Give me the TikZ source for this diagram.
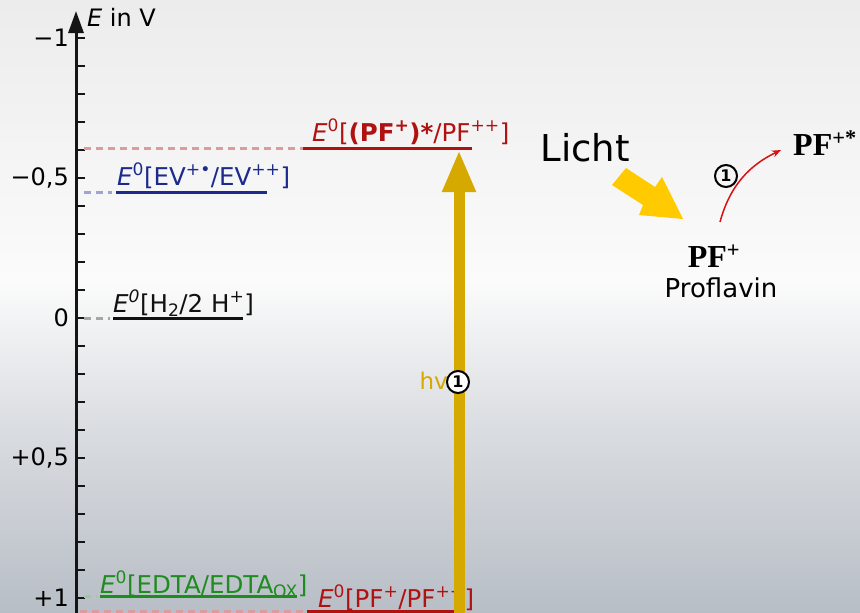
\documentclass[tikz,border=0pt]{standalone}
\usepackage{fontspec}
\setmainfont{DejaVu Sans}
\newfontfamily\pfserif{Liberation Serif}
\usetikzlibrary{arrows.meta}
\definecolor{bgtop}{HTML}{ECECEC}
\definecolor{bgmid}{HTML}{FBFBFB}
\definecolor{bgbot}{HTML}{B8BEC6}
\definecolor{axcol}{HTML}{151515}
\definecolor{lvred}{HTML}{B01212}
\definecolor{lvredl}{HTML}{DA9C9C}
\definecolor{lvblue}{HTML}{1C2A8E}
\definecolor{lvbluel}{HTML}{A0A4D2}
\definecolor{lvblack}{HTML}{111111}
\definecolor{lvgrayl}{HTML}{A6A6A6}
\definecolor{lvgreen}{HTML}{1E8C1E}
\definecolor{lvgreenl}{HTML}{9CCB9C}
\definecolor{gold}{HTML}{D6A900}
\definecolor{lichty}{HTML}{FFCB00}
\definecolor{curvered}{HTML}{D81010}
\pgfdeclareverticalshading{bgshade}{100bp}{color(0bp)=(bgbot); color(25bp)=(bgbot); color(40bp)=(bgbot!50!bgmid); color(52bp)=(bgmid); color(75bp)=(bgtop); color(100bp)=(bgtop)}
\begin{document}
\begin{tikzpicture}[x=1pt,y=-1pt,
  lvl/.style={line width=3pt},
  dsh/.style={line width=3pt, dash pattern=on 7pt off 5pt},
  lbl/.style={font=\fontsize{24.5}{28}\selectfont, inner sep=0pt, anchor=base west},
  ticklbl/.style={font=\fontsize{24}{28}\selectfont, inner sep=0pt, anchor=east},
  circnum/.style={circle, draw=black, line width=2pt, inner sep=0pt, minimum size=22pt, font=\bfseries\fontsize{16}{16}\selectfont},
  pf/.style={font=\pfserif\bfseries\fontsize{32}{34}\selectfont, inner sep=0pt}
  ]
\useasboundingbox (0,0) rectangle (860,613);
\clip (0,0) rectangle (860,613);
\begin{scope}[y=1pt]
\shade[shading=bgshade] (0,-613) rectangle (860,0);
\end{scope}

% axis
\coordinate (axbot) at (76,613);
\coordinate (axtop) at (76,11);
\draw[axcol, line width=3pt, -{Triangle[width=15pt,length=22pt]}] (axbot) -- (axtop);
\foreach \i in {0,...,20} \draw[axcol, line width=2pt] (76,38+28*\i) -- (85,38+28*\i);
\node[font=\fontsize{24}{28}\selectfont, inner sep=0pt, anchor=west] (axlbl) at (87,17) {\textit{E} in V};
\node[ticklbl] (tm1) at (69,38) {−1};
\node[ticklbl] (tm05) at (69,178) {−0,5};
\node[ticklbl] (t0) at (69,318) {0};
\node[ticklbl] (tp05) at (69,458) {+0,5};
\node[ticklbl] (tp1) at (69,598) {+1};

% level PF+* / PF++
\coordinate (a1) at (84,148); \coordinate (b1) at (303,148); \coordinate (c1) at (472,148);
\draw[dsh, lvredl] (a1) -- (b1);
\draw[lvl, lvred] (b1) -- (c1);
\node[lbl, text=lvred] (l1) at (312,141) {\textit{E}\textsuperscript{0}[{\bfseries (PF\textsuperscript{+})*}/PF\textsuperscript{++}]};

% level EV
\coordinate (a2) at (84,192); \coordinate (b2) at (112,192); \coordinate (b2s) at (116,192); \coordinate (c2) at (267,192);
\draw[dsh, lvbluel] (a2) -- (b2);
\draw[lvl, lvblue] (b2s) -- (c2);
\node[lbl, text=lvblue] (l2) at (117,185) {\textit{E}\textsuperscript{0}[EV\textsuperscript{+•}/EV\textsuperscript{++}]};

% level H2
\coordinate (a3) at (84,318); \coordinate (b3) at (110,318); \coordinate (b3s) at (113,318); \coordinate (c3) at (243,318);
\draw[dsh, lvgrayl] (a3) -- (b3);
\draw[lvl, lvblack] (b3s) -- (c3);
\node[lbl, text=lvblack] (l3) at (113,312) {\textit{E\textsuperscript{0}}[H\textsubscript{2}/2 H\textsuperscript{+}]};

% level EDTA
\coordinate (a4) at (84,596); \coordinate (b4) at (97,596); \coordinate (b4s) at (100,596); \coordinate (c4) at (297,596);
\draw[dsh, lvgreenl] (a4) -- (b4);
\draw[lvl, lvgreen] (b4s) -- (c4);
\node[lbl, text=lvgreen] (l4) at (100,593) {\textit{E}\textsuperscript{0}[EDTA/EDTA\textsubscript{OX}]};

% level PF+/PF++
\coordinate (a5) at (80,611); \coordinate (b5) at (307,611); \coordinate (c5) at (463,611);
\draw[dsh, lvredl] (a5) -- (b5);
\draw[lvl, lvred] (b5) -- (c5);
\node[lbl, text=lvred] (l5) at (318,607) {\textit{E}\textsuperscript{0}[PF\textsuperscript{+}/PF\textsuperscript{++}]};

% hv arrow
\coordinate (hvbot) at (459,620);
\coordinate (hvtop) at (459,150);
\draw[gold, line width=11pt, -{Triangle[width=31pt,length=42pt]}] (hvbot) -- (hvtop);
\node[font=\fontsize{23}{26}\selectfont, text=gold, inner sep=0pt, anchor=east] (hv) at (448,381) {hv};
\node[circnum, fill=white] (hvnum) at (458,382) {1};

% right side
\node[font=\fontsize{37}{40}\selectfont, inner sep=0pt] (licht) at (585,148) {Licht};
\fill[lichty] (626,168) -- (655,187) -- (662,177) -- (683,219) -- (639,215) -- (643,205) -- (612,185) -- cycle;
\node[pf, anchor=base] (pfp) at (714,267) {PF\textsuperscript{+}};
\node[font=\fontsize{26}{28}\selectfont, inner sep=0pt, anchor=base] (profl) at (721,297) {Proflavin};
\node[pf, anchor=base west] (pfs) at (793,155) {PF\textsuperscript{+*}};
\coordinate (cs) at (720,222);
\coordinate (ce) at (781,150);
\draw[curvered, line width=1.5pt, -{Stealth[length=9pt,width=7pt]}] (cs) .. controls (730,185) and (750,165) .. (ce);
\node[circnum] (cnum) at (726,176) {1};
\end{tikzpicture}
\end{document}
